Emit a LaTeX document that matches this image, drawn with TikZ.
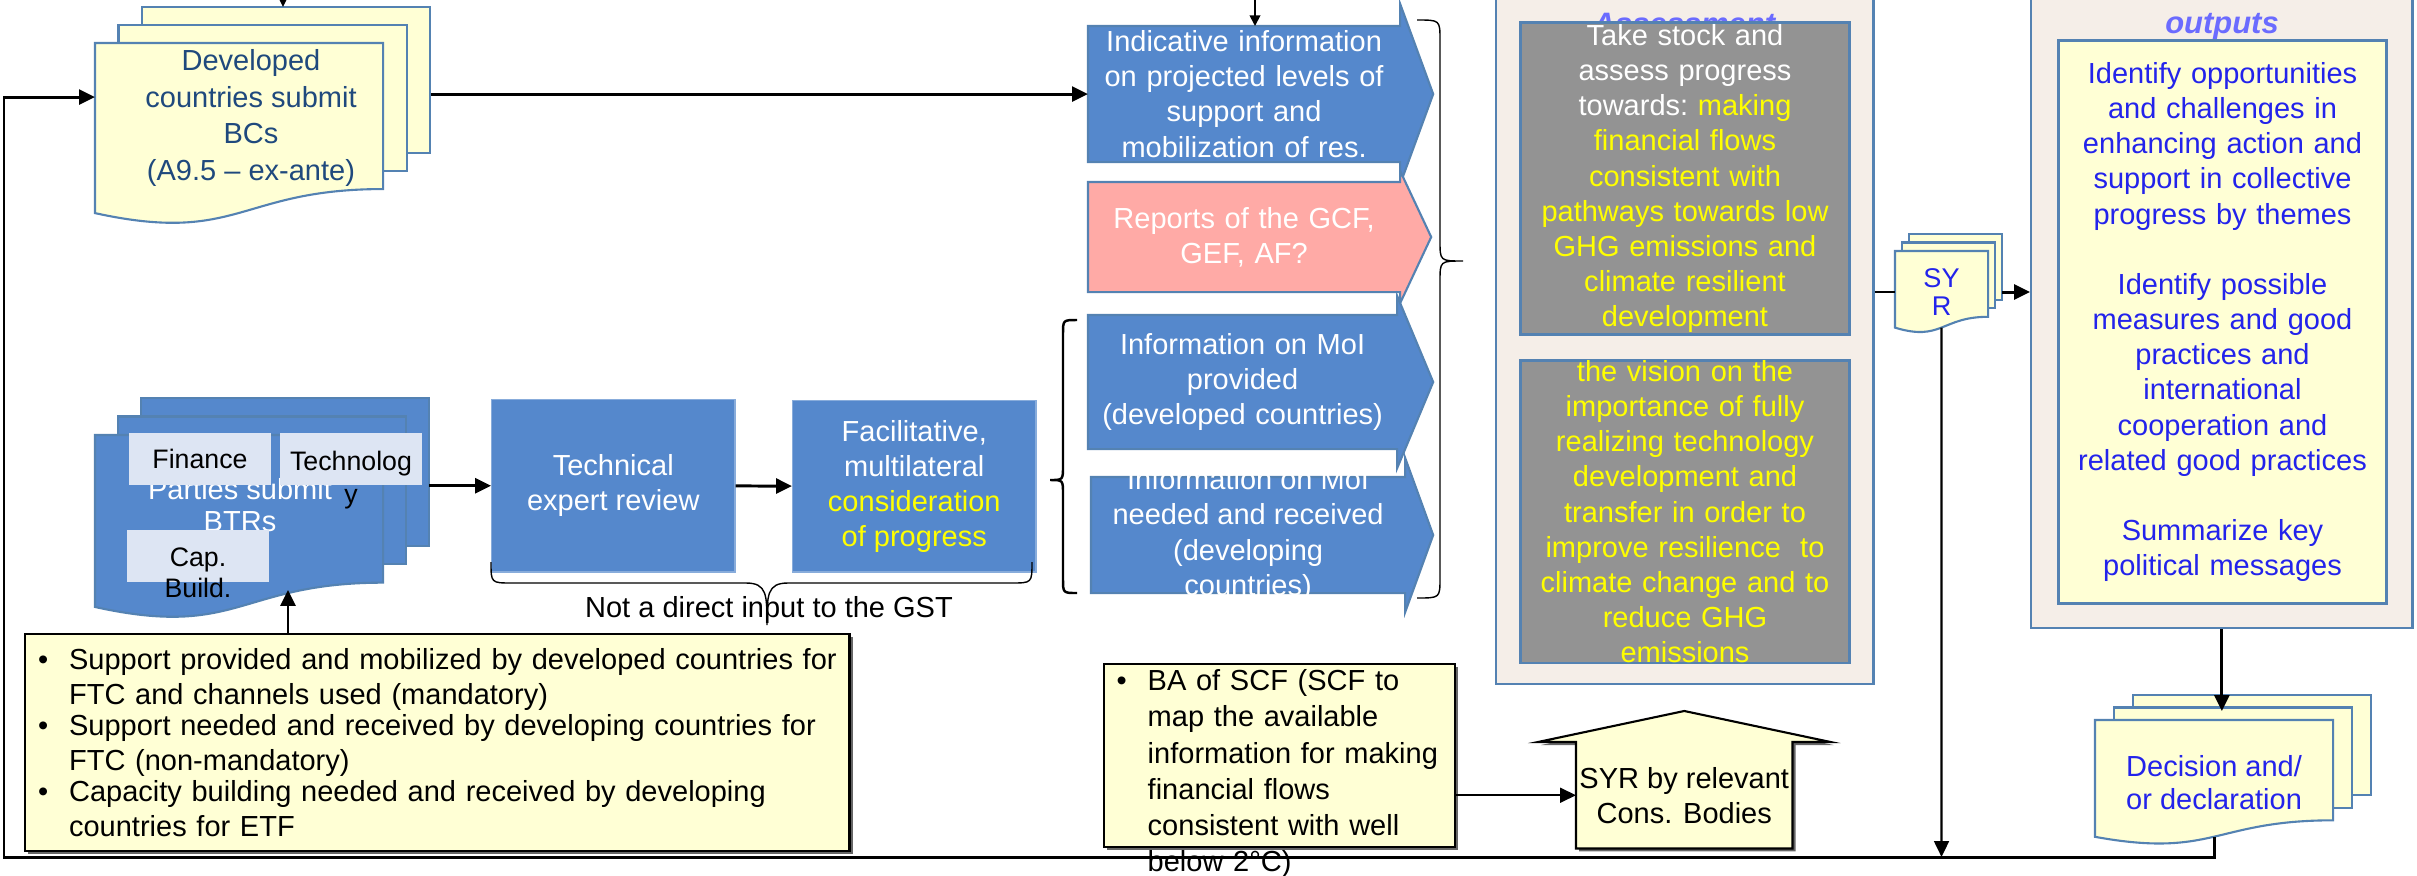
\documentclass[tikz,border=0pt]{standalone}
\usepackage{fontspec}
\setmainfont{Liberation Sans}
\usetikzlibrary{arrows.meta,calc,backgrounds,shadows}

\definecolor{ppblue}{RGB}{85,136,204}
\definecolor{ppedge}{RGB}{84,130,178}
\definecolor{ppyellow}{RGB}{255,255,213}
\definecolor{ppbeige}{RGB}{245,238,232}
\definecolor{ppgrey}{RGB}{147,147,147}
\definecolor{pppink}{RGB}{255,170,166}
\definecolor{pplight}{RGB}{221,229,243}
\definecolor{ppnavy}{RGB}{31,73,125}
\definecolor{pptext}{RGB}{35,35,235}
\definecolor{pptitle}{RGB}{107,107,255}
\definecolor{ppyel}{RGB}{255,255,0}

\newcommand{\docstack}[4]{%
  \begin{pgfonlayer}{background}
  \foreach \k in {2,1}
    \filldraw[#2] ($(#1.north west)+(\k*#3,\k*#4)$) rectangle ($(#1.north east)!0.802!(#1.south east)+(\k*#3,\k*#4)$);
  \filldraw[#2] (#1.north west) -- (#1.north east) -- ($(#1.north east)!0.802!(#1.south east)$)
    .. controls ($(#1.north)!0.802!(#1.south)$) and ($(#1.north)!1.1075!(#1.south)$) .. ($(#1.north west)!0.934!(#1.south west)$) -- cycle;
  \end{pgfonlayer}}
\newcommand{\blockhead}[4]{%
  \begin{pgfonlayer}{background}
  \filldraw[#2] (#1.north west) -- (#1.north east) -- ([yshift=#3]#1.north east) -- ([xshift=#4]#1.east)
    -- ([yshift=-#3]#1.south east) -- (#1.south east) -- (#1.south west) -- cycle;
  \end{pgfonlayer}}
\newcommand{\bitem}[2][7.9cm]{\makebox[0.31cm][l]{\textbullet}\parbox[t]{#1}{\raggedright #2}\par}

\begin{document}
\begin{tikzpicture}[x=0.01cm, y=-0.01cm,
font=\fontsize{8.25}{10}\selectfont,
arr/.style={line width=0.85pt, -{Triangle[length=4.5pt,width=4.2pt]}},
thinarr/.style={line width=0.5pt, -{Triangle[length=3pt,width=3pt]}},
bracket/.style={line width=0.4pt},
docframe/.style={inner sep=0pt, outer sep=0pt, anchor=north west},
yellowsheet/.style={fill=ppyellow, draw=ppedge, line width=0.6pt},
bluesheet/.style={fill=ppblue, draw=ppedge, line width=0.6pt},
arrowbody/.style={inner sep=0pt, outer sep=0pt, anchor=north west, text=white, align=center, text width=3.05cm},
bluehead/.style={fill=ppblue, draw=ppedge, line width=0.6pt},
pinkhead/.style={fill=pppink, draw=ppedge, line width=0.6pt},
bluebox/.style={fill=ppblue, draw=ppblue!70!white, line width=0.4pt, anchor=north west, inner sep=0pt, text=white, align=center, minimum width=2.43cm},
lightbox/.style={fill=pplight, inner sep=0pt, minimum width=1.42cm, minimum height=0.52cm, font=\fontsize{7.6}{8.8}\selectfont},
beigebox/.style={fill=ppbeige, draw=ppedge, line width=0.7pt, anchor=south west},
greybox/.style={fill=ppgrey, draw=ppedge, line width=0.8pt, anchor=north west, inner sep=0pt, minimum width=3.29cm, text width=3.2cm, align=center},
outbox/.style={fill=ppyellow, draw=ppedge, line width=0.8pt, anchor=north west, inner sep=0pt, text=pptext, align=center, text width=3.2cm},
notefill/.style={fill=ppyellow, draw=black, line width=0.6pt, drop shadow={shadow xshift=0.3mm, shadow yshift=-0.3mm, fill=black!60, opacity=1}},
notebox/.style={notefill, anchor=north west},
boxtitle/.style={text=pptitle, font=\fontsize{8.8}{10}\selectfont\bfseries\itshape, align=center},
]
\useasboundingbox (0,0) rectangle (2417,875);
\clip (0,0) rectangle (2417,875);

\node[docframe, minimum width=2.88cm, minimum height=1.82cm] (devdoc) at (95,43) {};
\docstack{devdoc}{yellowsheet}{0.235cm}{0.18cm}
\node[text=ppnavy, align=center, font=\fontsize{8.25}{10.4}\selectfont] (devtxt) at (251,118) {Developed\\countries submit\\BCs\\(A9.5 – ex-ante)};

\node[arrowbody, minimum width=3.12cm, minimum height=1.36cm] (ind) at (1088,26) {Indicative information\\on projected levels of\\support and\\mobilization of res.};
\blockhead{ind}{bluehead}{0.22cm}{0.33cm}
\node[arrowbody, minimum width=3.12cm, minimum height=1.10cm] (rep) at (1088,182) {Reports of the GCF,\\GEF, AF?};
\blockhead{rep}{pinkhead}{0.11cm}{0.31cm}
\node[arrowbody, minimum width=3.09cm, minimum height=1.34cm] (moip) at (1088,315) {Information on MoI\\provided\\(developed countries)};
\blockhead{moip}{bluehead}{0.19cm}{0.36cm}
\node[arrowbody, minimum width=3.14cm, minimum height=1.16cm] (moin) at (1091,477) {};
\blockhead{moin}{bluehead}{0.19cm}{0.28cm}
\node[text=white, align=center] (mointxt) at (moin.center) {Information on MoI\\needed and received\\(developing\\countries)};

\draw[bracket] (1417,20) .. controls (1440,20) .. (1440,40) -- (1440,241) .. controls (1440,261) .. (1463,261)
  .. controls (1440,261) .. (1440,281) -- (1440,578) .. controls (1440,598) .. (1417,598);
\draw[bracket, line width=0.7pt] (1077,320) .. controls (1063,320) .. (1063,334) -- (1063,466) .. controls (1063,480) .. (1050,480)
  .. controls (1063,480) .. (1063,494) -- (1063,579) .. controls (1063,593) .. (1077,593);

\node[bluebox, minimum height=1.72cm] (ter) at (491,399) {Technical\\expert review};
\node[bluebox, minimum height=1.71cm] (fac) at (792,400) {Facilitative,\\multilateral\\\textcolor{ppyel}{consideration}\\\textcolor{ppyel}{of progress}};
\node (notgst) at (769,610) {Not a direct input to the GST};
\draw[bracket] (491,562) .. controls (491,583) .. (512,583) -- (746,583) .. controls (767,583) and (767,595) .. (767,625)
  .. controls (767,595) and (767,583) .. (788,583) -- (1011,583) .. controls (1032,583) .. (1032,562);

\node[docframe, minimum width=2.88cm, minimum height=1.84cm] (btr) at (95,435) {};
\docstack{btr}{bluesheet}{0.23cm}{0.185cm}
\node[text=white, align=center, font=\fontsize{8.25}{9}\selectfont] (btrtxt) at (240,505) {Parties submit\\BTRs};
\node[lightbox] (fin) at (200,459) {Finance};
\node[lightbox] (tec) at (351,459) {};
\node[anchor=north, align=center, inner sep=0pt, font=\fontsize{7.6}{9.5}\selectfont] (tectxt) at ([yshift=-0.18cm]tec.north) {Technolog\\y};
\node[lightbox] (cap) at (198,556) {};
\node[anchor=north, align=center, inner sep=0pt, font=\fontsize{7.6}{8.8}\selectfont] (captxt) at ([yshift=-0.18cm]cap.north) {Cap.\\Build.};

\node[notebox, minimum width=8.24cm, minimum height=2.17cm, inner xsep=0.13cm, inner ysep=0pt, text width=7.98cm, align=left] (sup) at (24,633)
  {\bitem{Support provided and mobilized by developed countries for\\FTC and channels used (mandatory)}%
   \bitem{Support needed and received by developing countries for\\FTC (non-mandatory)}%
   \bitem{Capacity building needed and received by developing\\countries for ETF}};

\node[notebox, minimum width=3.51cm, minimum height=1.83cm] (ba) at (1103,663) {};
\node[anchor=north west, inner sep=0pt, text width=3.3cm, align=left, font=\fontsize{8.25}{10.3}\selectfont] (batxt) at ([xshift=0.13cm, yshift=-0.06cm]ba.north west)
  {\bitem[2.95cm]{BA of SCF (SCF to\\map the available\\information for making\\financial flows\\consistent with well\\below 2°C)}};

\node[inner sep=0pt, anchor=north west, minimum width=2.15cm, minimum height=1.05cm, align=center] (syrc) at (1576,742) {SYR by relevant\\Cons. Bodies};
\begin{pgfonlayer}{background}
\filldraw[notefill] (syrc.south west) -- (syrc.north west) -- ([xshift=-0.38cm]syrc.north west) -- ([yshift=0.31cm]syrc.north)
  -- ([xshift=0.38cm]syrc.north east) -- (syrc.north east) -- (syrc.south east) -- cycle;
\end{pgfonlayer}

\node[beigebox, minimum width=3.77cm, minimum height=7.25cm] (ta) at (1495,685) {};
\node[boxtitle] (tatitle) at (1684,6) {Technical\\Assessment};
\node[greybox, minimum height=3.12cm, text=white] (tk1) at (1519,21) {Take stock and\\assess progress\\towards:\ \color{ppyel}making\\financial flows\\consistent with\\pathways towards low\\GHG emissions and\\climate resilient\\development};
\node[greybox, minimum height=2.97cm, text=ppyel] (tk2) at (1519,359) {the vision on the\\importance of fully\\realizing technology\\development and\\transfer in order to\\improve resilience~ to\\climate change and to\\reduce GHG\\emissions};

\node[beigebox, minimum width=3.81cm, minimum height=6.69cm] (outp) at (2030,629) {};
\node[boxtitle] (outtitle) at (2222,8) {Consideration of\\outputs};
\node[outbox, minimum width=3.28cm, minimum height=5.63cm] (outy) at (2057,39) {Identify opportunities\\and challenges in\\enhancing action and\\support in collective\\progress by themes\\[10pt]Identify possible\\measures and good\\practices and\\international\\cooperation and\\related good practices\\[10pt]Summarize key\\political messages};

\node[docframe, minimum width=0.93cm, minimum height=0.82cm, text=pptext, align=center, font=\fontsize{7.7}{7.8}\selectfont] (syr) at (1895,251) {SY\\R};
\docstack{syr}{yellowsheet}{0.07cm}{0.085cm}
\node[docframe, minimum width=2.38cm, minimum height=1.25cm, text=pptext, align=center, font=\fontsize{8.25}{9.4}\selectfont] (dec) at (2095,720) {Decision and/\\or declaration};
\docstack{dec}{yellowsheet}{0.19cm}{0.125cm}

\coordinate (devin) at (283,-10);
\coordinate (devback) at ($(devdoc.north west)+(0.47cm,0.36cm)$);
\coordinate (devr) at ($(devdoc.east)+(0.48cm,0)$);
\coordinate (indin) at (1255,-10);
\coordinate (loopbl) at (4,857);
\coordinate (btrr) at ($(btr.east)+(0.46cm,0)$);
\coordinate (btrup) at (288,590);
\coordinate (syrr) at ($(syr.east)+(0.14cm,0)$);
\coordinate (dectop) at ($(dec.north)+(0,0.09cm)$);

\draw[arr] (devin) -- (devin |- devback);
\draw[thinarr] (indin) -- (indin |- ind.north);
\draw[arr] (devr |- ind.west) -- (ind.west);
\draw[arr] ($(dec.north)!0.933!(dec.south)$) |- (loopbl) |- ([yshift=0.37cm]devdoc.west);
\draw[arr] (btrr |- ter.west) -- (ter.west);
\draw[arr] (ter) -- (fac);
\draw[arr] (sup.north -| btrup) -- (btrup);
\draw[arr, line width=0.6pt] (ba.east |- syrc.west) -- (syrc.west);
\draw[line width=0.7pt] (ta.east |- syr.west) -- (syr.west);
\draw[arr] (syrr) -- (outp.west |- syrr);
\draw[arr] (outp.south) -- (outp.south |- dectop);
\draw[arr, line width=0.6pt] ($(syr.north)!0.933!(syr.south)$) -- (syr.south |- loopbl);
\end{tikzpicture}
\end{document}
